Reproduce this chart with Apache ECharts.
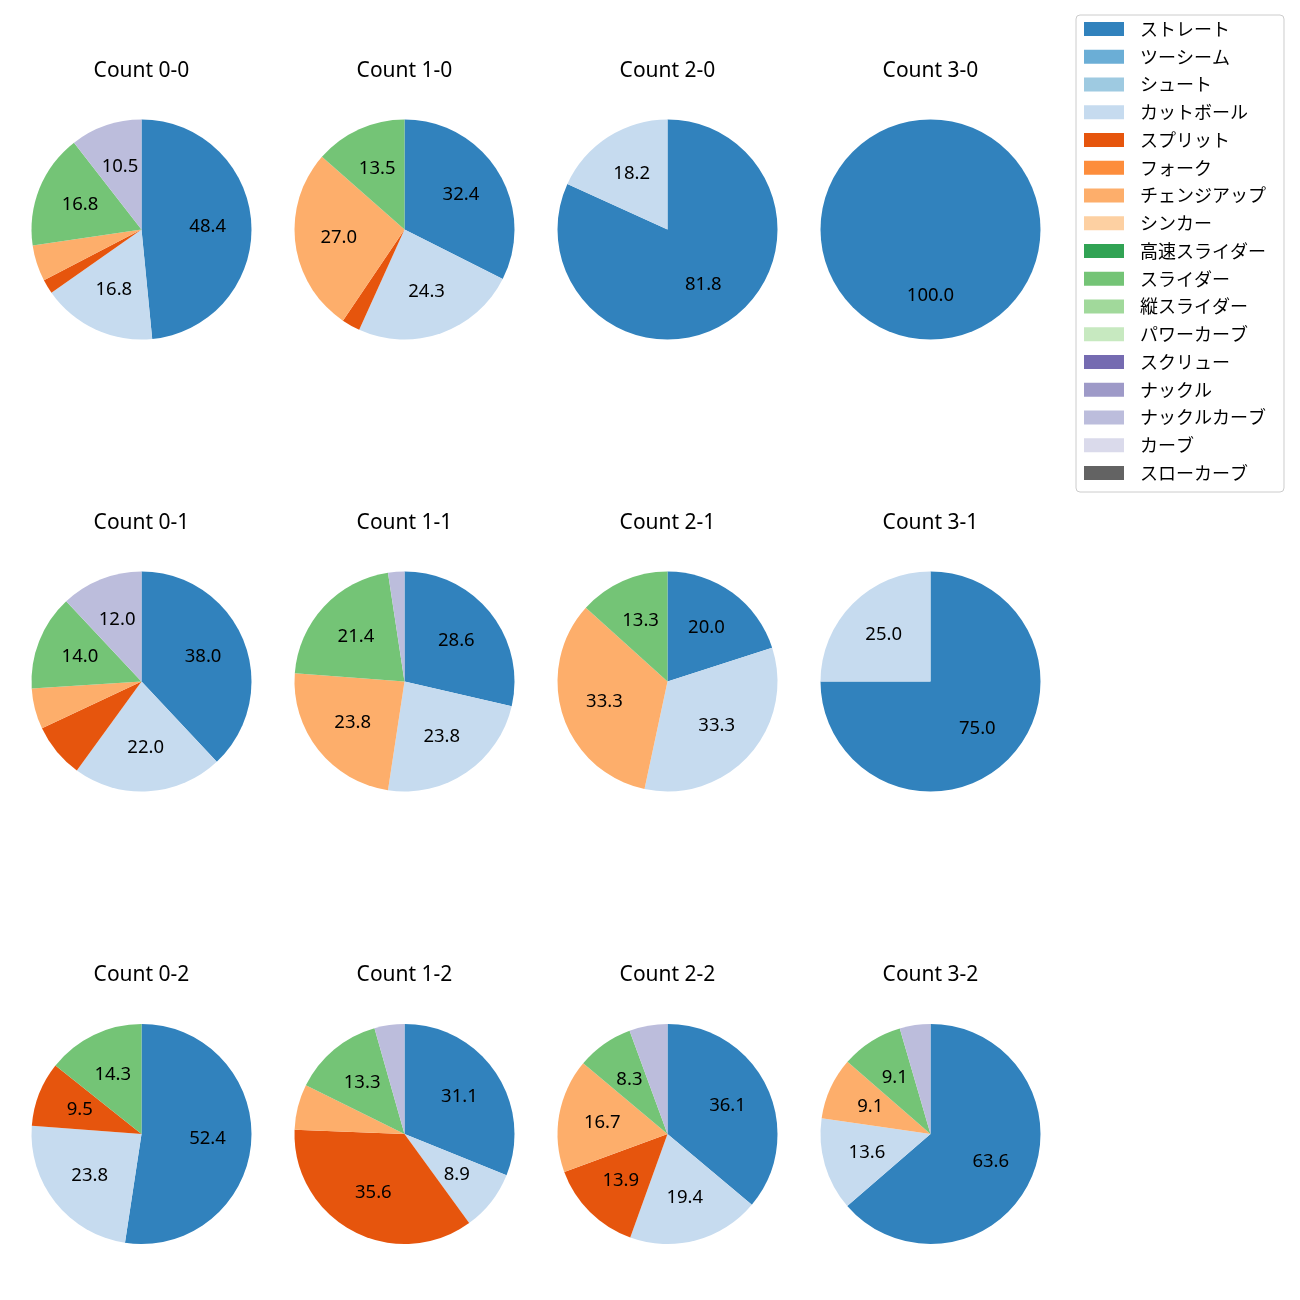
<!DOCTYPE html>
<html><head><meta charset="utf-8">
<script src="https://cdn.jsdelivr.net/npm/echarts@6/dist/echarts.min.js"></script>
<style>html,body{margin:0;padding:0;background:#fff}#c{width:1300px;height:1300px}</style>
</head><body><div id="c"></div>
<script>
const categories = ['ストレート','ツーシーム','シュート','カットボール','スプリット','フォーク','チェンジアップ','シンカー','高速スライダー','スライダー','縦スライダー','パワーカーブ','スクリュー','ナックル','ナックルカーブ','カーブ','スローカーブ'];
const colors = ['#3182bd','#6baed6','#9ecae1','#c6dbef','#e6550d','#fd8d3c','#fdae6b','#fdd0a2','#31a354','#74c476','#a1d99b','#c7e9c0','#756bb1','#9e9ac8','#bcbddc','#dadaeb','#636363'];
const titles = ['Count 0-0','Count 1-0','Count 2-0','Count 3-0','Count 0-1','Count 1-1','Count 2-1','Count 3-1','Count 0-2','Count 1-2','Count 2-2','Count 3-2'];
// values in category order
const v00 = [48.4,0,0,16.8,2.1,0,5.3,0,0,16.8,0,0,0,0,10.5,0,0];
const v10 = [32.4,0,0,24.3,2.7,0,27.0,0,0,13.5,0,0,0,0,0,0,0];
const v20 = [81.8,0,0,18.2,0,0,0,0,0,0,0,0,0,0,0,0,0];
const v30 = [100.0,0,0,0,0,0,0,0,0,0,0,0,0,0,0,0,0];
const v01 = [38.0,0,0,22.0,8.0,0,6.0,0,0,14.0,0,0,0,0,12.0,0,0];
const v11 = [28.6,0,0,23.8,0,0,23.8,0,0,21.4,0,0,0,0,2.4,0,0];
const v21 = [20.0,0,0,33.3,0,0,33.3,0,0,13.3,0,0,0,0,0,0,0];
const v31 = [75.0,0,0,25.0,0,0,0,0,0,0,0,0,0,0,0,0,0];
const v02 = [52.4,0,0,23.8,9.5,0,0,0,0,14.3,0,0,0,0,0,0,0];
const v12 = [31.1,0,0,8.9,35.6,0,6.7,0,0,13.3,0,0,0,0,4.4,0,0];
const v22 = [36.1,0,0,19.4,13.9,0,16.7,0,0,8.3,0,0,0,0,5.6,0,0];
const v32 = [63.6,0,0,13.6,0,0,9.1,0,0,9.1,0,0,0,0,4.5,0,0];
const allValues = [v00,v10,v20,v30,v01,v11,v21,v31,v02,v12,v22,v32];

const colX = [141.5, 404.5, 667.5, 930.5];
const rowY = [229.5, 681.5, 1134];
const titleY = [61, 513, 965];
const R = 110;
const LATIN = '"Noto Sans","Noto Sans CJK JP",sans-serif';
const CJK = '"Noto Sans CJK JP","Noto Sans",sans-serif';

const series = [];
const titleArr = [];
allValues.forEach((vals, k) => {
  const col = k % 4, row = Math.floor(k / 4);
  const data = categories.map((c, i) => ({name: c, value: vals[i], itemStyle: {color: colors[i]}}));
  series.push({
    type: 'pie', center: [colX[col], rowY[row]], radius: [0, R], startAngle: 90, clockwise: true,
    label: {show: false}, labelLine: {show: false}, emphasis: {disabled: true},
    itemStyle: {borderWidth: 0}, data: data, animation: false
  });
  series.push({
    type: 'pie', center: [colX[col], rowY[row]], radius: [0, R * 1.15], startAngle: 90, clockwise: true,
    silent: true, emphasis: {disabled: true}, legendHoverLink: false,
    itemStyle: {color: 'rgba(0,0,0,0)', borderWidth: 0},
    label: {show: true, position: 'inside', color: '#000', fontSize: 18.5, fontFamily: LATIN,
      formatter: p => (p.value > 8 ? p.value.toFixed(1) : '')},
    labelLine: {show: false},
    data: categories.map((c, i) => ({name: c, value: vals[i]})), animation: false
  });
  titleArr.push({text: titles[k], left: colX[col], top: titleY[row], textAlign: 'center', padding: 0,
    textStyle: {fontSize: 21, fontWeight: 'normal', color: '#000', fontFamily: LATIN}});
});

const chart = echarts.init(document.getElementById('c'), null, {renderer: 'canvas'});
chart.setOption({
  animation: false,
  title: titleArr,
  legend: {
    orient: 'vertical', left: 1076, top: 15, data: categories,
    itemWidth: 40, itemHeight: 14, itemGap: 9.75,
    padding: [5, 18, 10, 8], borderColor: '#cccccc', borderWidth: 1, borderRadius: 4,
    backgroundColor: '#ffffff', icon: 'rect', selectedMode: false,
    textStyle: {fontSize: 18, lineHeight: 18, color: '#000', fontFamily: CJK, padding: [0, 0, 0, 11]}
  },
  series: series
});
</script></body></html>
